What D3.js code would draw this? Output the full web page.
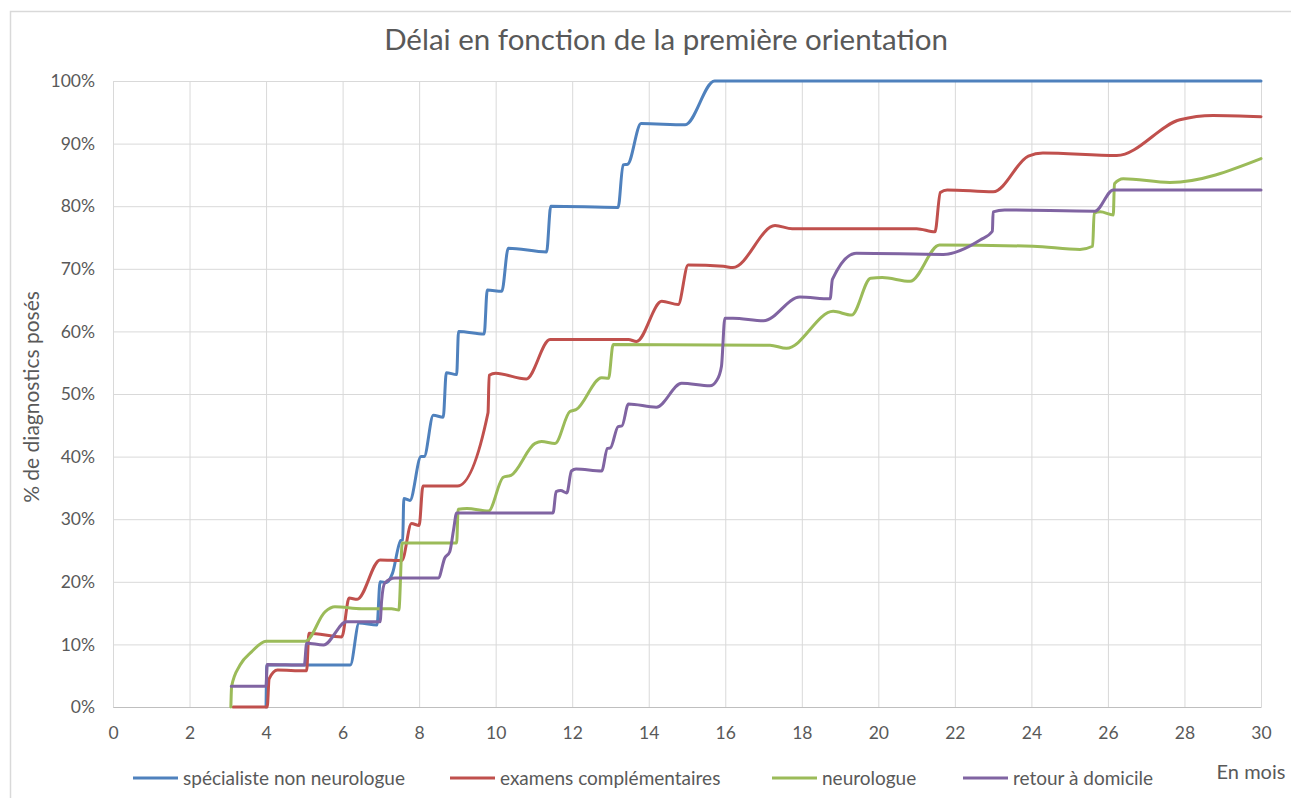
<!DOCTYPE html>
<html>
<head>
<meta charset="utf-8">
<script src="https://cdn.jsdelivr.net/npm/d3@7"></script>
<style>
  html, body { margin: 0; padding: 0; background: #fff; }
  svg { display: block; font-family: Lato, "Open Sans", sans-serif; }
</style>
</head>
<body>
<svg id="chart" width="1291" height="798"></svg>
<script>
// ---- data (months, % of diagnoses) ----
const title = "Délai en fonction de la première orientation";
const yTitle = "% de diagnostics posés";
const xTitle = "En mois";
const seriesNames = ["spécialiste non neurologue", "examens complémentaires", "neurologue", "retour à domicile"];
const seriesColors = ["#4F81BD", "#C0504D", "#9BBB59", "#8064A2"];
const xTicks = [0, 2, 4, 6, 8, 10, 12, 14, 16, 18, 20, 22, 24, 26, 28, 30];
const yTicks = [0, 10, 20, 30, 40, 50, 60, 70, 80, 90, 100];

const specialiste = [
  [4.0, 0], [4.02, 6.7], [6.2, 6.7], [6.43, 13.4], [6.9, 13.1], [6.98, 20.0], [7.15, 19.9],
  [7.3, 21.3], [7.52, 26.6], [7.57, 26.7], [7.6, 33.3], [7.76, 33.0], [8.05, 40.0], [8.13, 40.0],
  [8.37, 46.6], [8.63, 46.3], [8.71, 53.4], [8.98, 53.1], [9.03, 60.0], [9.7, 59.6], [9.78, 66.6],
  [10.16, 66.4], [10.33, 73.3], [11.33, 72.7], [11.44, 80.0], [13.2, 79.8], [13.33, 86.6],
  [13.45, 86.7], [13.8, 93.2], [14.95, 93.0], [15.72, 100], [30, 100]
];
const examens = [
  [3.14, 0], [4.03, 0], [4.08, 4.5], [4.3, 5.9], [5.0, 5.8], [5.06, 5.8], [5.12, 11.8],
  [5.98, 11.2], [6.17, 17.4], [6.38, 17.2], [6.98, 23.5], [7.55, 23.4], [7.8, 29.3], [8.0, 29.0],
  [8.1, 35.3], [9.0, 35.3], [9.8, 47.0], [9.83, 53.0], [10.0, 53.3], [10.8, 52.4], [11.42, 58.7],
  [13.47, 58.7], [13.68, 58.4], [14.34, 64.8], [14.77, 64.3], [15.03, 70.6], [15.95, 70.4],
  [16.2, 70.2], [17.3, 76.9], [17.75, 76.4], [21.0, 76.4], [21.48, 75.9], [21.62, 82.2],
  [21.8, 82.6], [23.0, 82.3], [23.92, 88.0], [24.3, 88.5], [26.23, 88.1], [27.88, 93.8],
  [28.75, 94.5], [30, 94.3]
];
const neurologue = [
  [3.08, 0], [3.1, 3.3], [3.32, 6.7], [3.62, 8.8], [4.0, 10.5], [5.03, 10.5], [5.54, 15.2],
  [5.8, 16.0], [6.5, 15.7], [7.28, 15.7], [7.47, 15.5], [7.56, 26.2], [8.98, 26.2], [9.02, 31.6],
  [9.25, 31.7], [9.81, 31.3], [10.2, 36.7], [10.4, 37.0], [11.03, 42.1], [11.2, 42.4], [11.55, 42.1],
  [11.94, 47.2], [12.1, 47.5], [12.77, 52.6], [12.95, 52.5], [13.07, 57.9], [17.17, 57.8],
  [17.6, 57.3], [18.82, 63.2], [19.3, 62.6], [19.8, 68.5], [20.1, 68.6], [20.83, 68.0],
  [21.6, 73.8], [24.05, 73.6], [25.27, 73.1], [25.6, 73.6], [25.64, 78.9], [25.8, 79.1],
  [26.14, 78.6], [26.17, 83.6], [26.4, 84.4], [27.62, 83.8], [30, 87.6]
];
const domicile = [
  [3.09, 3.3], [4.0, 3.3], [4.03, 6.8], [5.0, 6.7], [5.06, 10.2], [5.5, 9.9], [6.1, 13.6],
  [6.98, 13.6], [7.02, 17.0], [7.1, 19.8], [7.37, 20.6], [8.5, 20.6], [8.67, 23.8], [8.8, 24.8],
  [8.9, 28.3], [8.98, 31.0], [11.5, 31.0], [11.58, 34.4], [11.7, 34.6], [11.86, 34.2],
  [11.98, 37.7], [12.1, 38.0], [12.77, 37.7], [12.92, 41.3], [13.0, 41.4], [13.2, 44.8],
  [13.3, 44.9], [13.47, 48.4], [14.2, 47.9], [14.86, 51.7], [15.6, 51.3], [15.78, 52.2],
  [15.9, 54.4], [15.99, 62.1], [16.2, 62.1], [17.0, 61.7], [17.95, 65.5], [18.74, 65.2],
  [18.8, 68.3], [19.43, 72.5], [21.7, 72.3], [22.66, 74.6], [22.98, 76.0], [23.0, 79.1],
  [23.3, 79.4], [25.66, 79.2], [26.14, 82.6], [30, 82.6]
];
const seriesData = [specialiste, examens, neurologue, domicile];

// ---- layout ----
const svg = d3.select("#chart");
const W = 1291, H = 798;
const plot = { left: 113, right: 1261, top: 81, bottom: 707 };
const x = d3.scaleLinear().domain([0, 30]).range([plot.left, plot.right]);
const y = d3.scaleLinear().domain([0, 100]).range([plot.bottom, plot.top]);
const textGray = "#595959";
const gridGray = "#D9D9D9";

// outer frame
svg.append("rect").attr("x", 10.5).attr("y", 11.5).attr("width", W + 10).attr("height", H + 10)
  .attr("fill", "none").attr("stroke", "#D9D9D9").attr("stroke-width", 1.5);

// title
svg.append("text").attr("x", 666).attr("y", 50).attr("text-anchor", "middle")
  .attr("fill", textGray).attr("font-size", 29.5).text(title);

// gridlines
const gx = d3.axisBottom(x).tickValues(xTicks).tickSize(-(plot.bottom - plot.top)).tickFormat("");
svg.append("g").attr("transform", `translate(0,${plot.bottom})`).call(gx)
  .call(g => g.select(".domain").remove())
  .call(g => g.selectAll("line").attr("stroke", gridGray).attr("stroke-width", 1));
const gy = d3.axisLeft(y).tickValues(yTicks).tickSize(-(plot.right - plot.left)).tickFormat("");
svg.append("g").attr("transform", `translate(${plot.left},0)`).call(gy)
  .call(g => g.select(".domain").remove())
  .call(g => g.selectAll("line").attr("stroke", gridGray).attr("stroke-width", 1));

// axis labels
const ax = d3.axisBottom(x).tickValues(xTicks).tickSize(0).tickPadding(20).tickFormat(d => d);
svg.append("g").attr("transform", `translate(0,${plot.bottom})`).call(ax)
  .call(g => g.select(".domain").attr("stroke", "#BFBFBF"))
  .call(g => g.selectAll("text").attr("fill", textGray).attr("font-size", 17.5)
    .attr("font-family", "Lato, sans-serif"));
const ay = d3.axisLeft(y).tickValues(yTicks).tickSize(0).tickPadding(18).tickFormat(d => d + "%");
svg.append("g").attr("transform", `translate(${plot.left},0)`).call(ay)
  .call(g => g.select(".domain").remove())
  .call(g => g.selectAll("text").attr("fill", textGray).attr("font-size", 17.5)
    .attr("font-family", "Lato, sans-serif"));

// y title
svg.append("text").attr("transform", `translate(39,397) rotate(-90)`).attr("text-anchor", "middle")
  .attr("fill", textGray).attr("font-size", 21).text(yTitle);

// x title
svg.append("text").attr("x", 1251).attr("y", 779).attr("text-anchor", "middle")
  .attr("fill", textGray).attr("font-size", 20).text(xTitle);

// lines
const line = d3.line().x(d => x(d[0])).y(d => y(d[1])).curve(d3.curveMonotoneX);
svg.append("g").selectAll("path").data(seriesData).join("path")
  .attr("d", line).attr("fill", "none")
  .attr("stroke", (d, i) => seriesColors[i]).attr("stroke-width", 3)
  .attr("stroke-linejoin", "round").attr("stroke-linecap", "round");

// legend
const legendX = [133, 450, 772, 963];
const lg = svg.append("g");
seriesNames.forEach((name, i) => {
  lg.append("line").attr("x1", legendX[i]).attr("x2", legendX[i] + 45)
    .attr("y1", 778).attr("y2", 778).attr("stroke", seriesColors[i]).attr("stroke-width", 3);
  lg.append("text").attr("x", legendX[i] + 50).attr("y", 784.5).attr("fill", textGray)
    .attr("font-size", 19).text(name);
});
</script>
</body>
</html>
